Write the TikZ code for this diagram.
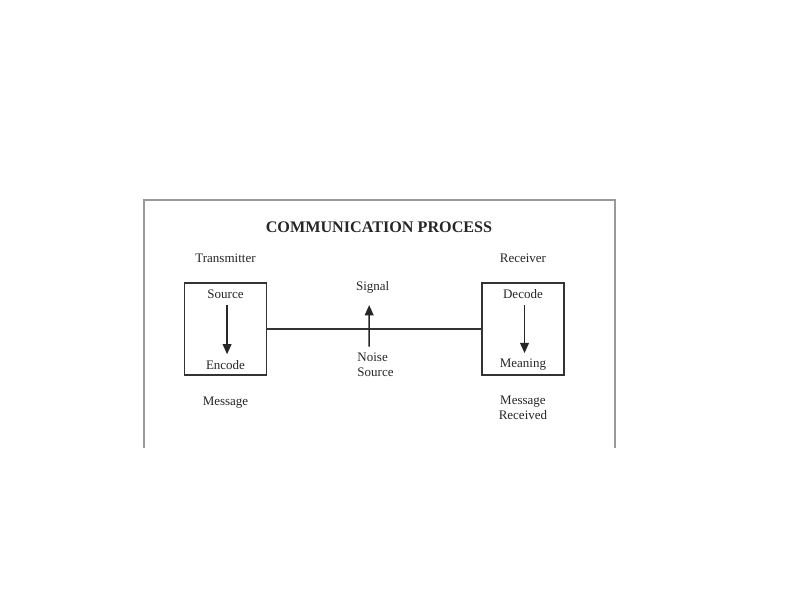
\documentclass[tikz,border=0pt]{standalone}
\usepackage{fontspec}
\setmainfont{Liberation Serif}
\usetikzlibrary{arrows.meta, positioning}
\tikzset{
  every node/.style={font=\fontsize{7.4}{8.4}\selectfont, text=black!85}, % plain labels
  % box for the two ends of the channel
  endbox/.style={draw=black!80, line width=0.8pt, minimum width=1.64cm,
    minimum height=1.84cm},
  flow/.style={draw=black!85, line width=0.8pt,
    -{Triangle[width=5pt,length=5.8pt]}}, % arrows with filled heads
}

\begin{document}
\begin{tikzpicture}[x=0.02cm, y=-0.02cm, node distance=1.4cm]
    \useasboundingbox (0,0) rectangle (800,600);
    % frame round the figure
    \draw[black!40, line width=0.7pt] (144,448) -- (144,200) -- (615,200) -- (615,448);

    \node[font=\fontsize{9.2}{10}\bfseries] (title) at (379,227) {COMMUNICATION PROCESS};

    \node[endbox] (tx) at (225.5,329) {};
    \node[endbox, right of=tx, node distance=5.95cm] (rx) {};

    \node[above of=tx, node distance=1.42cm] (trans) {Transmitter};
    \node[above of=rx, node distance=1.42cm] (recv) {Receiver};

    \node[above of=tx, node distance=0.7cm] (src) {Source};
    \node[below of=tx, node distance=0.72cm] (enc) {Encode};
    \node[above of=rx, node distance=0.7cm] (dec) {Decode};
    \node[below of=rx, node distance=0.72cm] (mean) {Meaning};

    \node[below of=tx, node distance=1.47cm] (msg) {Message};
    \node[below of=rx, node distance=1.57cm, align=center] (msgrec) {Message\\Received};

    \node (signal) at (372.7,287) {Signal};
    \node[align=left] (noise) at (375.5,364.5) {Noise\\Source};

    \draw[black!80, line width=0.8pt] (tx.east) -- (rx.west);
    \draw[flow] ([xshift=0.9pt]src.south) -- ([xshift=0.9pt]enc.north);
    \draw[flow] ([xshift=0.9pt]dec.south) -- ([xshift=0.9pt]mean.north);
    \draw[flow, shorten >=0.12cm] ([xshift=-3.6pt]noise.north) -- ([xshift=-2pt]signal.south);
  \end{tikzpicture}
\end{document}
